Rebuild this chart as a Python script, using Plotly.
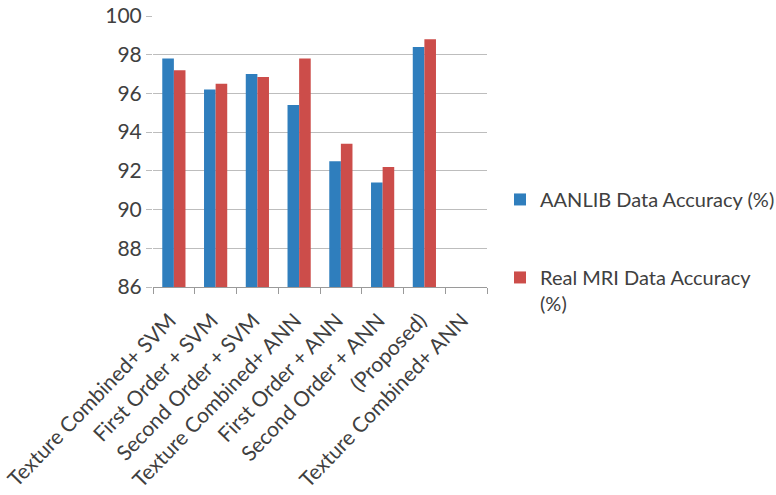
import plotly.graph_objects as go

categories = ["Texture Combined+ SVM", "First Order + SVM", "Second Order + SVM",
              "Texture Combined+ ANN", "First Order + ANN", "Second Order + ANN",
              "(Proposed)", "Texture Combined+ ANN"]
cat_ids = ["c%d" % i for i in range(len(categories))]
aanlib = [97.8, 96.2, 97.0, 95.4, 92.5, 91.4, 98.4, None]
real_mri = [97.2, 96.5, 96.85, 97.8, 93.4, 92.2, 98.8, None]
series_names = ["AANLIB Data Accuracy (%)", "Real MRI Data Accuracy<br>(%)"]
y_ticks = [86, 88, 90, 92, 94, 96, 98, 100]

FONT = "Lato, 'Open Sans', sans-serif"
TXT = "#404040"

fig = go.Figure()
fig.add_trace(go.Bar(x=cat_ids, y=aanlib, name=series_names[0],
                     marker=dict(color="#2F7EBD", line=dict(width=0)),
                     legendgroup="a"))
fig.add_trace(go.Bar(x=cat_ids, y=real_mri, name=series_names[1],
                     marker=dict(color="#CC4D4A", line=dict(width=0)),
                     legendgroup="b"))

fig.update_layout(
    width=776, height=495,
    margin=dict(l=153, r=289, t=16, b=208, autoexpand=False),
    paper_bgcolor="white", plot_bgcolor="white",
    font=dict(family=FONT, size=20, color=TXT),
    barmode="group", bargap=0.444, bargroupgap=0,
    legend=dict(x=1.039, xanchor="left", y=0.395, yanchor="top",
                font=dict(family=FONT, size=20, color=TXT),
                traceorder="grouped", tracegroupgap=49, valign="top",
                bgcolor="rgba(0,0,0,0)"),
    showlegend=True,
)
fig.update_xaxes(
    type="category", tickmode="array", tickvals=cat_ids, ticktext=categories,
    tickangle=-46, tickson="boundaries", ticks="outside", ticklen=6,
    ticklabelstandoff=12, ticklabelshift=-4,
    tickcolor="#9a9a9a", showline=True, linecolor="#9a9a9a", linewidth=1,
    showgrid=False, tickfont=dict(family=FONT, size=21, color=TXT),
)
fig.update_yaxes(
    range=[86, 100], tickvals=y_ticks, showgrid=True, gridcolor="#bdbdbd",
    gridwidth=1, zeroline=False, showline=False, ticks="outside", ticklen=6,
    tickcolor="#bdbdbd", tickfont=dict(family=FONT, size=21, color=TXT),
)

fig.write_html("out.html")
